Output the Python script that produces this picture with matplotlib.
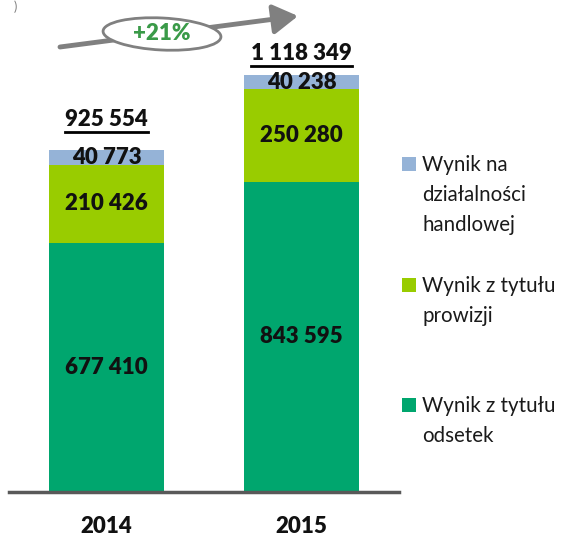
import matplotlib
matplotlib.use("Agg")
import matplotlib.pyplot as plt
from matplotlib.patches import Ellipse, Rectangle, FancyArrowPatch

plt.rcParams['font.family'] = ['Lato', 'DejaVu Sans']

# dane
lata = ['2014', '2015']
odsetki = [677410, 843595]
prowizje = [210426, 250280]
handel = [40773, 40238]
sumy = [925554, 1118349]
wzrost = '+21%'
etykiety = ['Wynik na\ndziałalności\nhandlowej', 'Wynik z tytułu\nprowizji', 'Wynik z tytułu\nodsetek']

kol_odsetki = '#00A66E'
kol_prowizje = '#99CC00'
kol_handel = '#95B3D7'

W, H = 563, 539
fig = plt.figure(figsize=(W / 100, H / 100), dpi=100)


def fx(px):
    return px / W


def fy(py):
    return 1 - py / H


ax = fig.add_axes([fx(9), fy(492), fx(399) - fx(9), fy(0) - fy(492)])
ax.set_xlim(-0.5, 1.5)
ax.set_ylim(0, 492 / 3.68e-4)

x = range(len(lata))
szer = 0.59
ax.bar(x, odsetki, szer, color=kol_odsetki)
dol2 = [a + b for a, b in zip(odsetki, prowizje)]
ax.bar(x, prowizje, szer, bottom=odsetki, color=kol_prowizje)
ax.bar(x, handel, szer, bottom=dol2, color=kol_handel)

fmt = lambda v: f'{v:,}'.replace(',', ' ')
bold = dict(fontsize=16, fontweight=800, color='#111111')
for i in x:
    ax.text(i, odsetki[i] / 2, fmt(odsetki[i]), ha='center', va='center', **bold)
    ax.text(i, odsetki[i] + prowizje[i] / 2, fmt(prowizje[i]), ha='center', va='center', **bold)
    ax.text(i, dol2[i] + handel[i] / 2, fmt(handel[i]), ha='center', va='center', **bold)

# sumy z podkresleniem
off = [32, 27]
sum_txt = []
for i in x:
    t = ax.annotate(fmt(sumy[i]), (i, sumy[i]), xytext=(0, off[i]), textcoords='offset pixels',
                    ha='center', va='center', **bold)
    sum_txt.append(t)

for s in ['top', 'right', 'left']:
    ax.spines[s].set_visible(False)
ax.spines['bottom'].set_color('#595959')
ax.spines['bottom'].set_linewidth(2.5)
ax.set_yticks([])
ax.set_xticks(list(x))
ax.set_xticklabels(lata, fontsize=16, fontweight=800, color='#111111')
ax.tick_params(axis='x', length=0, pad=17)

fig.canvas.draw()
r = fig.canvas.get_renderer()
inv = fig.transFigure.inverted()
for t in sum_txt:
    bb = t.get_window_extent(r)
    (x0, y0), (x1, y1) = inv.transform([(bb.x0, bb.y0), (bb.x1, bb.y1)])
    yy = y0 + (y1 - y0) * 0.02
    fig.add_artist(plt.Line2D([x0, x1], [yy - 0.004, yy - 0.004], color='black', lw=2,
                              transform=fig.transFigure))

# strzalka wzrostu
arr = FancyArrowPatch((fx(60), fy(47)), (fx(298), fy(16)), transform=fig.transFigure,
                      arrowstyle='-|>,head_length=0.75,head_width=0.45', mutation_scale=20,
                      color='#808080', lw=3.5, shrinkA=0, shrinkB=0)
fig.add_artist(arr)
el = Ellipse((fx(162), fy(34)), fx(118), 32 / H, angle=-3, transform=fig.transFigure,
             facecolor='white', edgecolor='#808080', lw=2)
fig.add_artist(el)
fig.text(fx(162), fy(34), wzrost, ha='center', va='center', fontsize=16, fontweight=800,
         color='#3A9A48')
fig.text(fx(15), fy(7), ')', ha='center', va='center', fontsize=9, color='#808080')

# legenda
kolory = [kol_handel, kol_prowizje, kol_odsetki]
ys = [157, 278, 398]
for k, lab, yy in zip(kolory, etykiety, ys):
    fig.add_artist(Rectangle((fx(402), fy(yy + 14)), fx(14), 14 / H, transform=fig.transFigure,
                             facecolor=k, edgecolor='none'))
    fig.text(fx(422), fy(yy - 2), lab, ha='left', va='top', fontsize=14.8, color='#1a1a1a',
             linespacing=1.62)

fig.savefig('out.png', dpi=100)
